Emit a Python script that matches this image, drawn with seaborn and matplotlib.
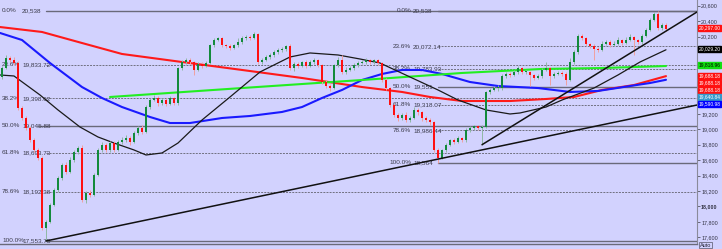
import numpy as np
import pandas as pd
import matplotlib
matplotlib.use("Agg")
import matplotlib.pyplot as plt
import seaborn as sns

# ---------------- data ----------------
first_open = 19677
closes = [
    19793, 19923, 19897, 19858, 19275, 19146, 19016, 18861, 18732, 18628,
    17721, 17799, 18019, 18214, 18369, 18537, 18447, 18602, 18706, 18757,
    18084, 18175, 18149, 18408, 18732, 18796, 18732, 18822, 18732, 18835,
    18861, 18887, 18835, 18952, 19016, 18965, 19288, 19379, 19405, 19340,
    19379, 19327, 19405, 19340, 19793, 19871, 19897, 19871, 19768, 19845,
    19819, 19858, 20091, 20156, 20182, 20091, 20078, 20052, 20091, 20130,
    20182, 20195, 20182, 20234, 19871, 19897, 19936, 19962, 20001, 20027,
    20039, 20078, 19793, 19845, 19819, 19871, 19819, 19871, 19897, 19832,
    19612, 19560, 19534, 19832, 19897, 19742, 19768, 19793, 19832, 19858,
    19871, 19897, 19871, 19897, 19858, 19638, 19534, 19314, 19185, 19146,
    19185, 19120, 19146, 19250, 19224, 19146, 19120, 19094, 18732, 18628,
    18732, 18796, 18861, 18835, 18887, 18861, 18991, 19016, 19042, 19016,
    19029, 19483, 19509, 19534, 19534, 19690, 19716, 19703, 19742, 19793,
    19742, 19742, 19703, 19664, 19690, 19768, 19793, 19690, 19716, 19729,
    19716, 19638, 19871, 20001, 20208, 20182, 20104, 20078, 20039, 20027,
    20104, 20130, 20091, 20104, 20156, 20117, 20156, 20195, 20156, 20130,
    20208, 20286, 20415, 20493, 20311, 20350, 20297,
]
highs = [
    19820, 19962, 19950, 19940, 19880, 19300, 19170, 19040, 18890, 18760,
    18650, 17830, 18040, 18240, 18400, 18560, 18580, 18640, 18730, 18780,
    18790, 18200, 18210, 18430, 18760, 18830, 18820, 18850, 18850, 18860,
    18900, 18920, 18910, 18980, 19040, 19050, 19310, 19400, 19440, 19430,
    19410, 19400, 19430, 19420, 19810, 19900, 19920, 19920, 19890, 19870,
    19870, 19880, 20110, 20180, 20200, 20200, 20110, 20100, 20110, 20180,
    20210, 20220, 20215, 20260, 20250, 19920, 19960, 19990, 20030, 20050,
    20070, 20090, 20100, 19870, 19870, 19890, 19900, 19900, 19920, 19910,
    19850, 19640, 19580, 19850, 19930, 19960, 19800, 19820, 19860, 19880,
    19900, 19920, 19910, 19915, 19910, 19870, 19660, 19550, 19340, 19210,
    19210, 19220, 19170, 19290, 19270, 19240, 19170, 19140, 19110, 18760,
    18750, 18820, 18880, 18890, 18910, 18900, 19010, 19040, 19060, 19060,
    19050, 19500, 19540, 19560, 19570, 19720, 19740, 19740, 19770, 19820,
    19810, 19770, 19760, 19720, 19710, 19790, 19870, 19810, 19740, 19760,
    19750, 19740, 19923, 20030, 20230, 20230, 20200, 20120, 20100, 20060,
    20140, 20160, 20150, 20140, 20190, 20170, 20200, 20230, 20210, 20170,
    20240, 20310, 20440, 20520, 20538, 20380, 20370,
]
lows = [
    19650, 19780, 19870, 19830, 19250, 19120, 18990, 18840, 18700, 18600,
    17690, 17553.75, 17780, 18000, 18190, 18340, 18420, 18430, 18580, 18680,
    18060, 18040, 18120, 18130, 18390, 18700, 18700, 18710, 18710, 18720,
    18810, 18840, 18800, 18820, 18930, 18940, 18950, 19260, 19360, 19300,
    19320, 19300, 19310, 19320, 19320, 19770, 19850, 19840, 19703, 19750,
    19790, 19800, 19840, 20070, 20140, 20060, 20050, 20030, 20040, 20070,
    20110, 20160, 20150, 20170, 19850, 19840, 19880, 19910, 19940, 19980,
    20000, 20020, 19770, 19760, 19790, 19800, 19790, 19800, 19850, 19800,
    19590, 19530, 19500, 19520, 19810, 19720, 19720, 19750, 19770, 19810,
    19840, 19850, 19850, 19850, 19830, 19610, 19510, 19290, 19160, 19110,
    19120, 19090, 19100, 19130, 19180, 19110, 19090, 19060, 18700, 18564,
    18610, 18710, 18780, 18810, 18820, 18830, 18840, 18970, 18990, 18990,
    18800, 19010, 19460, 19490, 19500, 19510, 19670, 19680, 19690, 19720,
    19720, 19710, 19560, 19640, 19650, 19670, 19750, 19573, 19670, 19700,
    19690, 19573, 19620, 19850, 19980, 20150, 20080, 20050, 19900, 20000,
    20010, 20090, 20070, 20080, 20090, 20090, 20100, 20140, 19962, 20100,
    20110, 20190, 20270, 20400, 20290, 20280, 20270,
]

# moving averages (candle index, price)
ma_red_x = [-0.5, 10, 20, 30, 45, 60, 75, 90, 100, 107, 115, 127, 136, 143, 150, 158, 166]
ma_red_y = [20324, 20260, 20117, 19975, 19871, 19768, 19664, 19547, 19483, 19418,
            19366, 19366, 19392, 19418, 19509, 19573, 19688.18]
ma_blue_x = [-0.5, 5, 12, 20, 25, 30, 37, 42, 47, 55, 62, 70, 75, 80, 85, 90, 95,
             100, 105, 110, 117, 124, 134, 142, 149, 157, 162, 166]
ma_blue_y = [20247, 20156, 19858, 19547, 19405, 19288, 19159, 19081, 19081, 19146,
             19172, 19224, 19288, 19405, 19509, 19638, 19716, 19768, 19768, 19716,
             19612, 19560, 19534, 19483, 19496, 19560, 19599, 19640.84]
ma_green_x = [27, 60, 90, 115, 135, 150, 166]
ma_green_y = [19418, 19534, 19638, 19729, 19781, 19793, 19818.96]
ma_black_x = [-0.5, 3, 9.5, 14, 19.5, 24, 28, 33, 36, 40, 44, 50, 57, 64.5, 72, 77,
              84, 89.5, 94.5, 102, 109, 114, 121, 127, 129.5, 136, 140, 148, 154,
              159.5, 166]
ma_black_y = [19703, 19690, 19444, 19250, 19029, 18900, 18822, 18732, 18667, 18693,
              18822, 19120, 19418, 19742, 19936, 19988, 19962, 19910, 19858, 19677,
              19509, 19379, 19250, 19198, 19211, 19288, 19379, 19534, 19703, 19871,
              20029.20]

# trend lines
trend1_x = [11, 173.75]
trend1_y = [17553.75, 19314]
trend2_x = [120, 173.75]
trend2_y = [18800, 20519]

# fibonacci retracements
fib_pct = ["0.0%", "23.6%", "38.2%", "50.0%", "61.8%", "78.6%", "100.0%"]
fib_left = [20538, 19833.72, 19398.62, 19045.88, 18693.73, 18192.38, 17553.75]
fib_left_txt = ["20,538", "19,833.72", "19,398.62", "19,045.88", "18,693.73",
                "18,192.38", "17,553.75"]
fib_right = [20538, 20072.14, 19783.93, 19551, 19318.07, 18986.44, 18564]
fib_right_txt = ["20,538", "20,072.14", "19,783.93", "19,551", "19,318.07",
                 "18,986.44", "18,564"]

# right price tags
tag_text = ["20,297.00", "20,029.20", "19,818.96", "19,688.18", "19,688.18",
            "19,688.18", "19,640.84", "19,590.98"]
tag_face = ["#ff1010", "#000000", "#10e010", "#ff1010", "#ff1010", "#ff1010",
            "#3399cc", "#0000ff"]
tag_color = ["white", "white", "black", "white", "white", "white", "white", "white"]
tag_ypx = [28, 49, 65, 76, 83, 90, 97, 104]

y_ticks = list(range(17600, 20601, 200))
hidden_tick_labels = [20000, 19800, 19600, 19400]   # covered by price tags

# ---------------- figure ----------------
W, H = 722, 249
BG = "#d2d2fe"
sns.set_style("white", {"axes.facecolor": BG, "figure.facecolor": BG})
plt.rcParams["font.family"] = ["Liberation Sans", "DejaVu Sans"]

fig = plt.figure(figsize=(W / 100, H / 100), dpi=100)
ax_right_px = 697
ax_bottom_px = 244
ax = fig.add_axes([0, 1 - ax_bottom_px / H, ax_right_px / W, ax_bottom_px / H])
ax.set_facecolor(BG)

price_per_px = 12.95
ytop = 20674
ax.set_ylim(ytop - ax_bottom_px * price_per_px, ytop)
ax.set_xlim(-0.5, (ax_right_px - 2) / 4)
xmax = (ax_right_px - 2) / 4

# fib lines
for k, (lv, lv2) in enumerate(zip(fib_left, fib_right)):
    solid = k in (0, 3, 6)
    ls = "-" if solid else (0, (2, 1.2))
    lw = 1.0 if solid else 0.7
    col = "#6a6a7a" if solid else "#707080"
    ax.plot([11 if k != 3 else 9, xmax], [lv, lv], color=col, lw=lw, ls=ls, zorder=1)
    ax.plot([109, xmax], [lv2, lv2], color=col, lw=lw, ls=ls, zorder=1)

fs = 4.6
tc = "#3a3a4a"
for k in range(len(fib_pct)):
    ax.text(0, fib_left[k], fib_pct[k], fontsize=fs, color=tc, va="center", ha="left", zorder=2)
    ax.text(5, fib_left[k], fib_left_txt[k], fontsize=fs, color=tc, va="center", ha="left", zorder=2)
    ax.text(102.3, fib_right[k], fib_pct[k], fontsize=fs, color=tc, va="center", ha="right", zorder=2)
    ax.text(102.75, fib_right[k], fib_right_txt[k], fontsize=fs, color=tc, va="center", ha="left", zorder=2)

# moving averages
sns.lineplot(x=ma_red_x, y=ma_red_y, ax=ax, color="#ff1a1a", lw=1.5, zorder=3, sort=False)
sns.lineplot(x=ma_blue_x, y=ma_blue_y, ax=ax, color="#1a1aff", lw=1.5, zorder=3, sort=False)
sns.lineplot(x=ma_green_x, y=ma_green_y, ax=ax, color="#22ee22", lw=1.5, zorder=3, sort=False)
sns.lineplot(x=ma_black_x, y=ma_black_y, ax=ax, color="#1a1a1a", lw=0.9, zorder=3, sort=False)

# candles
opens = [first_open] + closes[:-1]
df = pd.DataFrame({"o": opens, "h": highs, "l": lows, "c": closes})
df["x"] = np.arange(len(df))
up = df["c"] >= df["o"]
wick_col = np.where(up, "#8fb8a4", "#f0a0a0")
ax.vlines(df["x"], df["l"], df["h"], colors=wick_col, lw=0.7, zorder=4)
body_col = np.where(up, "#138a3c", "#ff1010")
heights = (df["c"] - df["o"]).values
heights = np.where(np.abs(heights) < 8, 8, heights)
ax.bar(df["x"], heights, bottom=df["o"], width=0.6, color=body_col, lw=0, zorder=5)

# trend lines
sns.lineplot(x=trend1_x, y=trend1_y, ax=ax, color="#111111", lw=1.1, zorder=6)
sns.lineplot(x=trend2_x, y=trend2_y, ax=ax, color="#111111", lw=1.1, zorder=6)

# axis styling
ax.yaxis.tick_right()
ax.set_yticks(y_ticks)
ax.set_yticklabels(["" if v in hidden_tick_labels else f"{v:,}" for v in y_ticks])
ax.tick_params(axis="y", labelsize=3.9, labelcolor="#333344", color="#555566",
               length=2, width=0.6, pad=1)
for lab in ax.get_yticklabels():
    if lab.get_text() == "18,000":
        lab.set_fontweight("bold")
ax.set_xticks([])
for s in ["top", "left"]:
    ax.spines[s].set_visible(False)
ax.spines["right"].set_color("#8a8a9a")
ax.spines["right"].set_linewidth(0.8)
ax.spines["bottom"].set_color("#6a6a7a")
ax.spines["bottom"].set_linewidth(1.0)

# right price tags
for t, fc, c, ypx in zip(tag_text, tag_face, tag_color, tag_ypx):
    fig.text(698.5 / W, 1 - ypx / H, t, fontsize=3.5, color=c, va="center", ha="left",
             bbox=dict(boxstyle="square,pad=0.08", fc=fc, ec=fc), zorder=10)

fig.text(700 / W, 1 - 245 / H, "Auto", fontsize=4.0, color="#222233", va="center",
         ha="left", bbox=dict(boxstyle="square,pad=0.1", fc=BG, ec="#555566", lw=0.5))

fig.savefig("out.png", dpi=100, facecolor=BG)
